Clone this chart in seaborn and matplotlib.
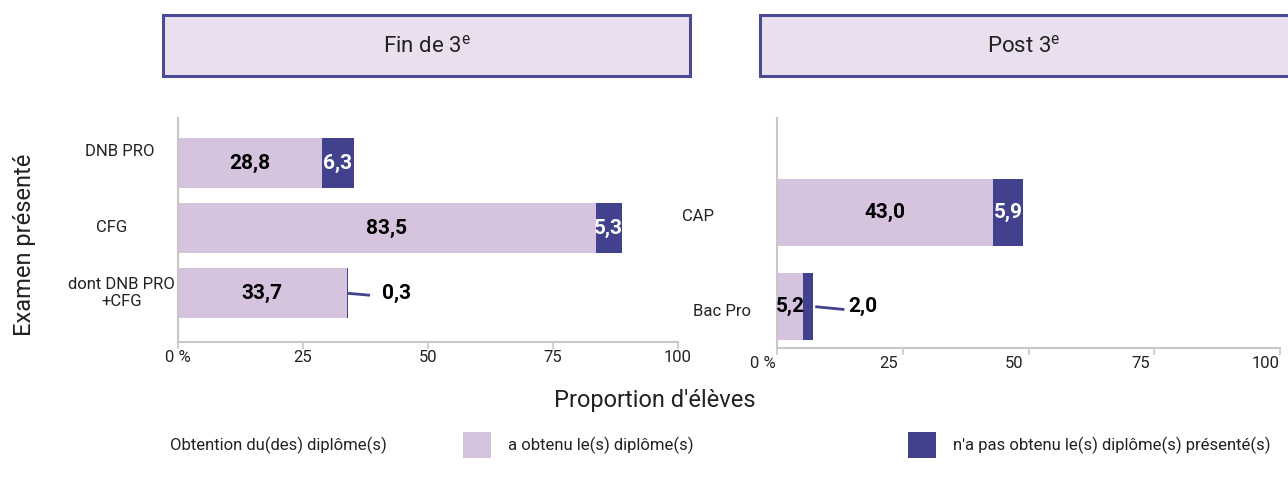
import matplotlib
matplotlib.use("Agg")
import matplotlib.pyplot as plt
import matplotlib.transforms as mtrans
import seaborn as sns
import pandas as pd
from matplotlib.patches import Rectangle

left_cats = ["DNB PRO", "CFG", "dont DNB PRO\n+CFG"]
left_obt = [28.8, 83.5, 33.7]
left_non = [6.3, 5.3, 0.3]
right_cats = ["CAP", "Bac Pro"]
right_obt = [43.0, 5.2]
right_non = [5.9, 2.0]
x_ticks = [0, 25, 50, 75, 100]
x_ticklabels = ["0 %", "25", "50", "75", "100"]

LIGHT = "#D6C3DE"
DARK = "#41418E"
HEADER_FILL = "#EADFEE"
HEADER_EDGE = "#4B4B95"
SPINE = "#C8C8C8"
TXT = "#222222"

sns.set_theme(style="white")
plt.rcParams["font.family"] = ["Roboto", "DejaVu Sans"]

W, H = 1288, 483
fig = plt.figure(figsize=(W / 100, H / 100), dpi=100)

def fx(px):
    return px / W

def fy(py):
    return 1 - py / H

axL = fig.add_axes([fx(178), fy(342), fx(678) - fx(178), fy(118) - fy(342)])
axR = fig.add_axes([fx(777), fy(348), fx(1280) - fx(777), fy(118) - fy(348)])


def shift(artist, dx, dy):
    artist.set_transform(artist.get_transform() +
                         mtrans.ScaledTranslation(dx / 100, -dy / 100,
                                                  fig.dpi_scale_trans))


def draw_panel(ax, cats, obt, non, width, ylim):
    df = pd.DataFrame({"cat": cats, "obt": obt,
                       "tot": [a + b for a, b in zip(obt, non)]})
    sns.barplot(data=df, y="cat", x="tot", color=DARK, width=width,
                ax=ax, saturation=1, orient="h")
    sns.barplot(data=df, y="cat", x="obt", color=LIGHT, width=width,
                ax=ax, saturation=1, orient="h")
    for p in ax.patches:
        p.set_edgecolor("none")
        p.set_linewidth(0)
    ax.set_xlim(0, 100)
    ax.set_ylim(*ylim)
    ax.set_xlabel("")
    ax.set_ylabel("")
    ax.set_xticks(x_ticks)
    ax.set_xticklabels(x_ticklabels)
    for s in ["top", "right"]:
        ax.spines[s].set_visible(False)
    for s in ["left", "bottom"]:
        ax.spines[s].set_color(SPINE)
        ax.spines[s].set_linewidth(1.5)
    ax.tick_params(axis="x", bottom=True, length=5, width=1.2, color=SPINE,
                   labelsize=12, pad=1, labelcolor=TXT)
    ax.tick_params(axis="y", left=False, labelsize=12, pad=42, labelcolor=TXT)
    for lab in ax.get_yticklabels():
        lab.set_horizontalalignment("center")
    for i, (a, b) in enumerate(zip(obt, non)):
        ax.text(a / 2, i, f"{a:.1f}".replace(".", ","), ha="center",
                va="center", fontsize=15, fontweight="bold", color="black")
        if b >= 1.5 and a > 10:
            ax.text(a + b / 2, i, f"{b:.1f}".replace(".", ","), ha="center",
                    va="center", fontsize=15, fontweight="bold", color="white")


def leader(ax, i, a, b, x0, length, gap):
    end = a + b
    ax.plot([end + x0, end + length], [i, i + 0.03], color=DARK, lw=2,
            solid_capstyle="butt")
    ax.text(end + length + gap, i, f"{b:.1f}".replace(".", ","), ha="left",
            va="center", fontsize=15, fontweight="bold", color="black")


draw_panel(axL, left_cats, left_obt, left_non, 0.77, (2.75, -0.70))
draw_panel(axR, right_cats, right_obt, right_non, 0.71, (1.44, -1.01))
leader(axL, 2, left_obt[2], left_non[2], 0.0, 4.4, 2.4)
leader(axR, 1, right_obt[1], right_non[1], 0.4, 6.2, 0.8)

# category label fine placement
for lab, (dx, dy) in zip(axL.get_yticklabels(), [(8, -13), (0, -2), (10, -3)]):
    shift(lab, dx, dy)
for lab, (dx, dy) in zip(axR.get_yticklabels(), [(-12, 2), (12, 3)]):
    shift(lab, dx, dy)
# right panel tick labels sit slightly left of their ticks
for lab in axR.get_xticklabels():
    shift(lab, -14, 0)

# headers
for x0, x1, txt in [(163, 690, "Fin de 3$^\\mathregular{e}$"),
                    (760, 1291, "Post 3$^\\mathregular{e}$")]:
    r = Rectangle((fx(x0), fy(76)), fx(x1) - fx(x0), fy(15) - fy(76),
                  transform=fig.transFigure, facecolor=HEADER_FILL,
                  edgecolor=HEADER_EDGE, linewidth=2.2, zorder=0)
    fig.patches.append(r)
    fig.text(fx((x0 + min(x1, 1288)) / 2), fy(46), txt, ha="center",
             va="center", fontsize=16, color=TXT)

fig.text(fx(655), fy(400), "Proportion d'élèves", ha="center", va="center",
         fontsize=17, color=TXT)
fig.text(fx(25), fy(245), "Examen présenté", ha="center", va="center",
         rotation=90, fontsize=17, color=TXT)

# legend
fig.text(fx(170), fy(445), "Obtention du(des) diplôme(s)", ha="left",
         va="center", fontsize=12, color=TXT)
for x0, col, txt in [(463, LIGHT, "a obtenu le(s) diplôme(s)"),
                     (908, DARK, "n'a pas obtenu le(s) diplôme(s) présenté(s)")]:
    r = Rectangle((fx(x0), fy(458)), fx(28), fy(432) - fy(458),
                  transform=fig.transFigure, facecolor=col, edgecolor="none")
    fig.patches.append(r)
    fig.text(fx(x0 + 45), fy(445), txt, ha="left", va="center",
             fontsize=12, color=TXT)

fig.savefig("out.png", dpi=100)
